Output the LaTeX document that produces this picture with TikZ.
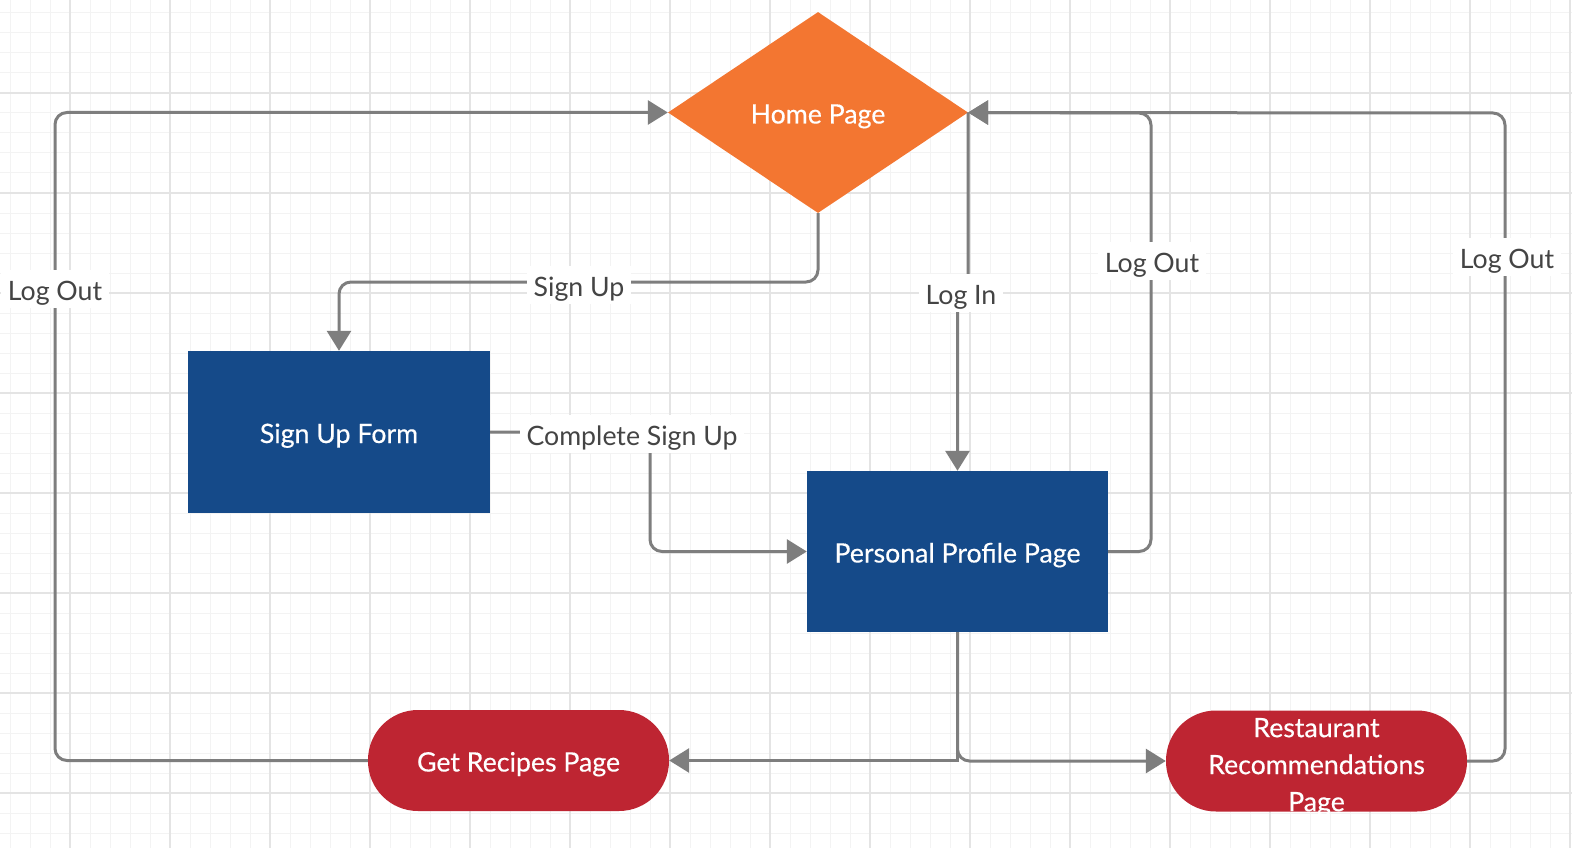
\documentclass[tikz,border=0pt]{standalone}
\usepackage{fontspec}
\setmainfont{Lato}
\newfontfamily\nodefont[FakeBold=0.4]{Lato}
\usetikzlibrary{arrows.meta,shapes.geometric,calc}
\definecolor{homeorange}{HTML}{F37631}
\definecolor{pageblue}{HTML}{154A89}
\definecolor{pagered}{HTML}{BE2532}
\definecolor{conngray}{HTML}{7E7E7E}
\definecolor{labelgray}{HTML}{444444}
\definecolor{gridminor}{HTML}{F3F3F3}
\definecolor{gridmajor}{HTML}{E4E4E4}
\tikzset{
  txt/.style={font=\fontsize{26.7}{32}\selectfont},
  ntxt/.style={font=\nodefont\fontsize{26.7}{32}\selectfont},
  cen/.style={text height=22pt, text depth=0pt},
  decisionbox/.style={diamond, fill=homeorange, text=white, ntxt, cen, minimum width=300pt, minimum height=201pt, aspect=1.49, inner sep=0pt},
  pagebox/.style={rectangle, fill=pageblue, text=white, ntxt, cen, minimum width=302pt, minimum height=162pt, inner sep=0pt},
  pillbox/.style={rectangle, rounded corners=50pt, fill=pagered, text=white, ntxt, minimum width=301pt, minimum height=101pt, inner sep=0pt, align=center},
  conn/.style={draw=conngray, line width=3pt, rounded corners=12pt},
  arr/.style={-{Triangle[length=20pt,width=24pt]}},
  lbl/.style={fill=white, text=labelgray, txt, cen, inner xsep=7pt, inner ysep=8pt}
}
\begin{document}
\begin{tikzpicture}[x=1pt,y=-1pt]
\useasboundingbox (0,0) rectangle (1572,848);
\fill[white] (0,0) rectangle (1572,848);
% grid
\foreach \x in {10,30,...,1570} \draw[gridminor, line width=1pt] (\x,0) -- (\x,848);
\foreach \y in {13,33,...,848} \draw[gridminor, line width=1pt] (0,\y) -- (1572,\y);
\foreach \x in {70,170,...,1570} \draw[gridmajor, line width=1.5pt] (\x,0) -- (\x,848);
\foreach \y in {93,193,...,848} \draw[gridmajor, line width=1.5pt] (0,\y) -- (1572,\y);

% nodes
\node[decisionbox] (home) at (818,112.5) {Home Page};
\node[pagebox] (signup) at (339,432) {Sign Up Form};
\node[pagebox, minimum width=301pt, minimum height=161pt] (profile) at (957.5,551.5) {Personal Profile Page};
\node[pillbox, cen] (recipes) at (518.5,760.5) {Get Recipes Page};
\node[pillbox] (rest) at (1316.5,761) {};
\node[text=white, font=\nodefont\fontsize{26.7}{37}\selectfont, align=center, inner sep=0pt] (resttext) at (1316.5,767) {Restaurant\\Recommendations\\Page};

% helper coordinates
\coordinate (lx) at (55,0);
\coordinate (su) at (0,282);
\coordinate (cx) at (650,0);
\coordinate (lo1) at (1151,113);
\coordinate (lo2) at (1505,113);
\coordinate (li) at (963,293);

% connectors
\draw[conn,arr] (recipes.west) -- (recipes.west -| lx) |- (home.west);
\draw[conn,arr] (home.south) |- (su -| signup.north) -- (signup.north);
\draw[conn,arr] (signup.east) -| (cx |- profile.west) -- (profile.west);
\draw[conn,arr] (home.east) -- (home.east |- li) -- (li -| profile.north) -- (profile.north);
\draw[conn,arr] (profile.east) -| (lo1) -- (home.east);
\draw[conn,arr] (rest.east) -| (lo2) -- (home.east);
\draw[conn,arr,rounded corners=0pt] (profile.south) |- (recipes.east);
\draw[conn,arr] (profile.south) |- (rest.west);

% labels
\node[lbl] (llo) at (55,289) {Log Out};
\node[lbl] (lsu) at (579,285) {Sign Up};
\node[lbl] (lcs) at (632,434) {Complete Sign Up};
\node[lbl] (lli) at (961,293) {Log In};
\node[lbl] (llo1) at (1152,261) {Log Out};
\node[lbl] (llo2) at (1507,257) {Log Out};
\end{tikzpicture}
\end{document}
